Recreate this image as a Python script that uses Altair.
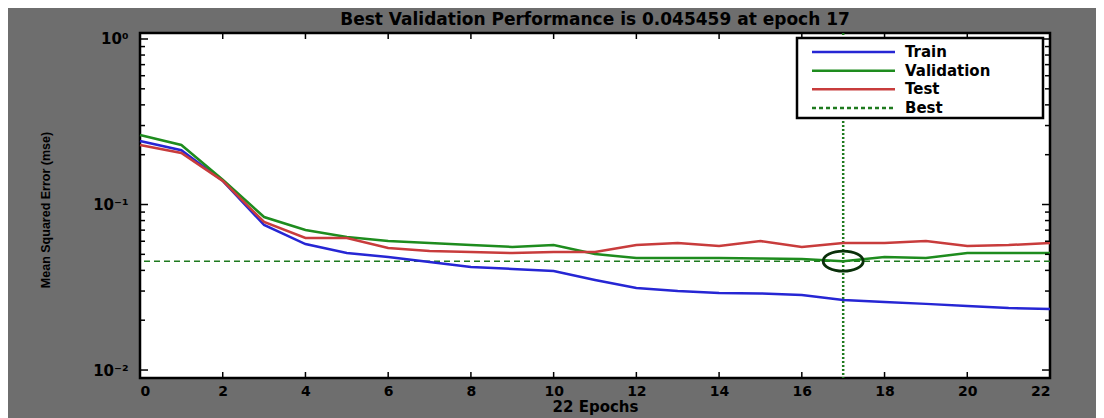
import altair as alt
import pandas as pd

# ---- data ----
epochs = list(range(23))
train = [0.242, 0.213, 0.139, 0.0752, 0.0577, 0.0509, 0.0482, 0.0449, 0.0419, 0.0408,
         0.0396, 0.0350, 0.0313, 0.0300, 0.0292, 0.0290, 0.0284, 0.0265, 0.0258, 0.0251,
         0.0244, 0.0237, 0.0234]
validation = [0.263, 0.229, 0.141, 0.0840, 0.0701, 0.0636, 0.0602, 0.0585, 0.0569, 0.0554,
              0.0569, 0.0502, 0.0475, 0.0475, 0.0475, 0.0472, 0.0469, 0.045459, 0.0482, 0.0475,
              0.0509, 0.0509, 0.0509]
test = [0.229, 0.205, 0.139, 0.0784, 0.0628, 0.0627, 0.0546, 0.0524, 0.0516, 0.0509,
        0.0516, 0.0516, 0.0569, 0.0585, 0.0561, 0.0601, 0.0554, 0.0585, 0.0585, 0.0601,
        0.0561, 0.0569, 0.0585]
best_epoch = 17
best_value = 0.045459
series_names = ["Train", "Validation", "Test", "Best"]
series_colors = ["#2626d4", "#1e8c1e", "#c83c3c", "#1e7a1e"]
x_tick_values = list(range(0, 23, 2))
y_major = [0.01, 0.1, 1.0]
y_minor = [0.02, 0.03, 0.04, 0.05, 0.06, 0.07, 0.08, 0.09,
           0.2, 0.3, 0.4, 0.5, 0.6, 0.7, 0.8, 0.9]

FONT = "DejaVu Sans"
W, H = 910, 345

lines_df = pd.DataFrame({
    "epoch": epochs * 3,
    "mse": train + validation + test,
    "series": ["Train"] * 23 + ["Validation"] * 23 + ["Test"] * 23,
})

yscale = alt.Scale(type="log", domain=[0.00895, 1.087], nice=False)
xscale = alt.Scale(domain=[0, 22], nice=False)
color_scale = alt.Scale(domain=series_names, range=series_colors)

lines = alt.Chart(lines_df).mark_line(strokeWidth=2.5).encode(
    x=alt.X("epoch:Q", scale=xscale,
            axis=alt.Axis(values=x_tick_values, ticks=False, domain=False, grid=False,
                          labelFont=FONT, labelFontWeight="bold", labelFontSize=14,
                          labelColor="black", labelPadding=6,
                          title="22 Epochs", titleFont=FONT, titleFontWeight="bold",
                          titleFontSize=15, titleColor="black", titlePadding=1)),
    y=alt.Y("mse:Q", scale=yscale,
            axis=alt.Axis(values=y_major, ticks=False, domain=False, grid=False,
                          labelExpr="'10' + (datum.value > 0.5 ? '⁰' : datum.value > 0.05 ? '⁻¹' : '⁻²')",
                          labelFont=FONT, labelFontWeight="bold", labelFontSize=15,
                          labelColor="black", labelPadding=12,
                          title="Mean Squared Error  (mse)", titleFont="Liberation Sans",
                          titleFontWeight="bold", titleFontSize=12.5, titleColor="black",
                          titleX=-95, titleY=H / 2 + 4, titleAngle=270,
                          titleAlign="center", titleBaseline="middle")),
    color=alt.Color("series:N", scale=color_scale, legend=None),
    detail="series:N",
)

best_h = alt.Chart(pd.DataFrame({"mse": [best_value]})).mark_rule(
    color="#1e7a1e", strokeWidth=1.6, strokeDash=[6, 4]
).encode(y=alt.Y("mse:Q", scale=yscale, axis=None))

best_v = alt.Chart(pd.DataFrame({"epoch": [best_epoch]})).mark_rule(
    color="#1e7a1e", strokeWidth=2.5, strokeDash=[2, 2]
).encode(x=alt.X("epoch:Q", scale=xscale))

ellipse_path = "M -1 0 A 1 0.5 0 1 1 1 0 A 1 0.5 0 1 1 -1 0 Z"
best_pt = alt.Chart(pd.DataFrame({"epoch": [best_epoch], "mse": [best_value]})).mark_point(
    shape=ellipse_path, size=1600, filled=False, strokeWidth=2.8, color="#0a300a", opacity=1
).encode(x=alt.X("epoch:Q", scale=xscale), y=alt.Y("mse:Q", scale=yscale, axis=None))

# tick marks (inward, MATLAB style)
xt_df = pd.DataFrame({"epoch": x_tick_values})
xt_bottom = alt.Chart(xt_df).mark_rule(color="black", strokeWidth=1.5).encode(
    x=alt.X("epoch:Q", scale=xscale), y=alt.value(H), y2=alt.value(H - 6))
xt_top = alt.Chart(xt_df).mark_rule(color="black", strokeWidth=1.5).encode(
    x=alt.X("epoch:Q", scale=xscale), y=alt.value(0), y2=alt.value(6))

ymaj_df = pd.DataFrame({"mse": y_major})
ymin_df = pd.DataFrame({"mse": y_minor})
yt = []
for df, ln in ((ymaj_df, 8), (ymin_df, 5)):
    yt.append(alt.Chart(df).mark_rule(color="black", strokeWidth=1.5).encode(
        y=alt.Y("mse:Q", scale=yscale, axis=None), x=alt.value(0), x2=alt.value(ln)))
    yt.append(alt.Chart(df).mark_rule(color="black", strokeWidth=1.5).encode(
        y=alt.Y("mse:Q", scale=yscale, axis=None), x=alt.value(W), x2=alt.value(W - ln)))

# legend
leg_df = pd.DataFrame({"series": series_names, "row": [0, 1, 2, 3]})
leg_scale = alt.Scale(domain=[0, 3], range=[19, 75])
leg_box = alt.Chart(pd.DataFrame({"a": [0]})).mark_rect(
    fill="white", stroke="black", strokeWidth=2.5
).encode(x=alt.value(657), x2=alt.value(903), y=alt.value(5), y2=alt.value(85))
leg_lines = alt.Chart(leg_df).mark_rule(strokeWidth=2.5).encode(
    x=alt.value(672), x2=alt.value(755),
    y=alt.Y("row:Q", scale=leg_scale, axis=None),
    color=alt.Color("series:N", scale=color_scale, legend=None),
    strokeDash=alt.StrokeDash("series:N", scale=alt.Scale(
        domain=series_names, range=[[1, 0], [1, 0], [1, 0], [4, 3]]), legend=None),
)
leg_text = alt.Chart(leg_df).mark_text(
    align="left", baseline="middle", font=FONT, fontWeight="bold", fontSize=15, color="black"
).encode(x=alt.value(765), y=alt.Y("row:Q", scale=leg_scale, axis=None), text="series:N")

chart = alt.layer(
    best_h, best_v, lines, best_pt, xt_bottom, xt_top, *yt, leg_box, leg_lines, leg_text
).resolve_scale(y="independent").properties(
    width=W, height=H,
    title=alt.TitleParams("Best Validation Performance is 0.045459 at epoch 17",
                          font=FONT, fontWeight="bold", fontSize=17, color="black",
                          offset=3, anchor="middle"),
    padding={"left": 132, "top": 25, "right": 46, "bottom": 40},
    autosize=alt.AutoSizeParams(type="none"),
).configure(background="#6e6e6e").configure_view(
    fill="white", stroke="black", strokeWidth=2.5
)

chart.save("out.html", embed_options={"renderer": "svg", "actions": False})
